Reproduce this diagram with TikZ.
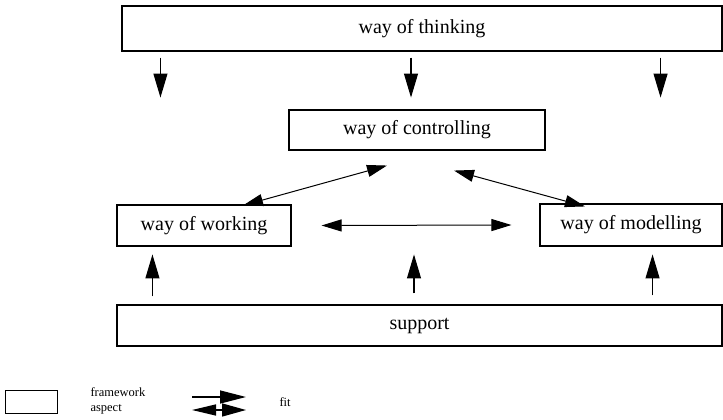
\documentclass[tikz,border=0pt]{standalone}
\usepackage{fontspec}
\setmainfont{Liberation Serif}
\usetikzlibrary{arrows.meta}

\tikzset{
  aspect/.style={draw,line width=1.1pt,inner sep=0pt,font=\fontsize{20}{24}\selectfont},
  arr/.style={-{Triangle[length=24pt,width=14pt]},line width=1.1pt},
  twoarr/.style={{Triangle[length=20pt,width=12pt]}-{Triangle[length=20pt,width=12pt]},line width=1pt}
}

\begin{document}
\begin{tikzpicture}[x=1pt,y=-1pt]
\useasboundingbox (0,0) rectangle (723,420);

% the framework aspects
\node[aspect,minimum width=600pt,minimum height=45pt] (thinking) at (422,28.5) {way of thinking};
\node[aspect,minimum width=256pt,minimum height=40pt] (controlling) at (417,130) {way of controlling};
\node[aspect,minimum width=174pt,minimum height=41pt] (working) at (204,225.5) {way of working};
\node[aspect,minimum width=182pt,minimum height=42pt] (modelling) at (631,225) {way of modelling};
\node[aspect,minimum width=605pt,minimum height=41pt] (support) at (419.5,325.5) {support};

% thinking drives the others
\draw[arr] ([xshift=39pt,yshift=-6pt]thinking.south west) -- +(0,40);
\draw[arr] ([xshift=-11pt,yshift=-6pt]thinking.south) -- +(0,40);
\draw[arr] ([xshift=-62pt,yshift=-6pt]thinking.south east) -- +(0,40);

% fits
\draw[twoarr] ([xshift=39pt,yshift=-1pt]working.north) -- ([xshift=-30pt,yshift=-15pt]controlling.south);
\draw[twoarr] ([xshift=37pt,yshift=-20pt]controlling.south) -- ([xshift=-46pt,yshift=-3pt]modelling.north);
\draw[twoarr] ([xshift=30pt]working.east) -- ([xshift=-28pt]modelling.west);

% support underneath
\draw[arr] ([xshift=36pt,yshift=8pt]support.north west) -- +(0,-42);
\draw[arr] ([xshift=-5.5pt,yshift=11pt]support.north) -- +(0,-39);
\draw[arr] ([xshift=-70pt,yshift=9pt]support.north east) -- +(0,-41);

% legend
\draw[line width=0.7pt] (5,390) rectangle (57,413);
\node[anchor=west,align=left,font=\fontsize{12.5}{15}\selectfont] (fwtext) at (87,400.5) {framework\\aspect};
\draw[-{Triangle[length=26pt,width=13pt]},line width=1.4pt] (192,397) -- (246,397);
\draw[{Triangle[length=24pt,width=13pt]}-{Triangle[length=24pt,width=11pt]},line width=1.4pt] (246,410) -- (192,410);
\node[anchor=west,font=\fontsize{12.5}{15}\selectfont] (fittext) at (276,402) {fit};
\end{tikzpicture}
\end{document}
